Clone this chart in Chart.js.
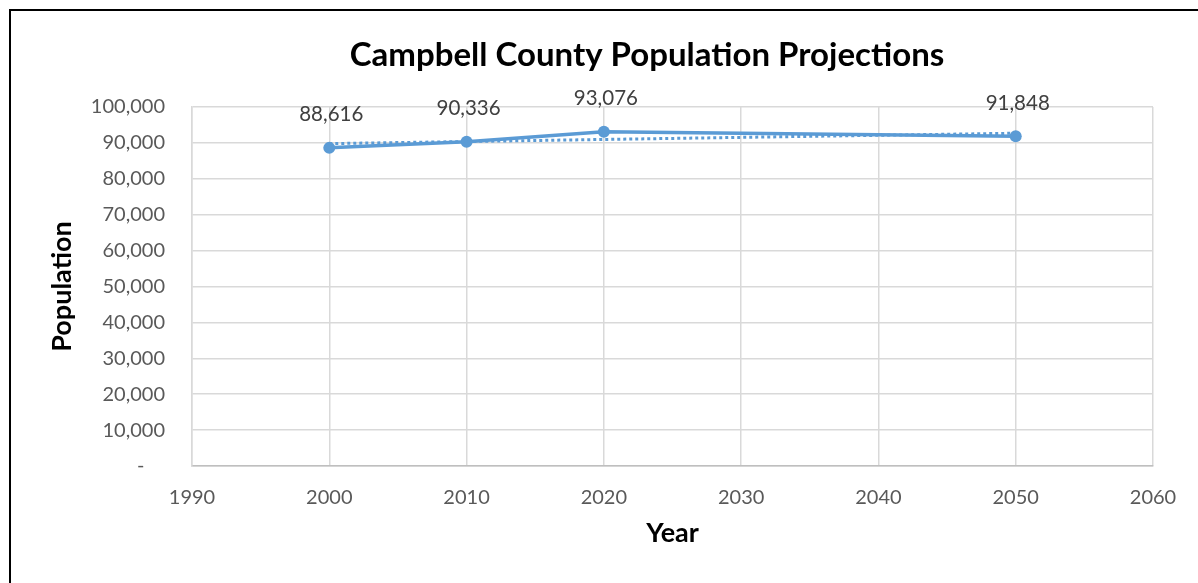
<!DOCTYPE html>
<html>
<head>
<meta charset="utf-8">
<script src="https://cdn.jsdelivr.net/npm/chart.js@4.4.1/dist/chart.umd.min.js"></script>
<style>
  body { margin: 0; background: #fff; }
  #wrap { position: relative; width: 1198px; height: 583px; overflow: hidden; }
  #frame { position: absolute; left: 9px; top: 9px; width: 1300px; height: 700px; border-left: 2px solid #000; border-top: 2px solid #000; }
  #chart { position: absolute; left: 0; top: 0; }
</style>
</head>
<body>
<div id="wrap">
  <div id="frame"></div>
  <canvas id="chart" width="1198" height="583"></canvas>
</div>
<script>
// data
const years = [2000, 2010, 2020, 2050]
const population = [88616, 90336, 93076, 91848]
// linear trendline ends (dotted)
const trendYears = [2000, 2050]
const trendValues = [89800, 92700]

const chartTitle = 'Campbell County Population Projections'
const xTitle = 'Year'
const yTitle = 'Population'

const blue = '#5b9bd5'
const font = 'Lato'

//draw title by hand so it sits where excel put it
const titlePlugin = {
  id: 'bigTitle',
  afterDraw(chart){
    const ctx = chart.ctx
    ctx.save()
    ctx.font = 'bold 33px ' + font
    ctx.fillStyle = '#000'
    ctx.textAlign = 'center'
    ctx.textBaseline = 'middle'
    ctx.fillText(chartTitle, 647, 55)
    ctx.restore()
  }
}

//value labels above the points
const labelPlugin = {
  id: 'pointLabels',
  afterDatasetsDraw(chart){
    const ctx = chart.ctx
    const meta = chart.getDatasetMeta(1)
    ctx.save()
    ctx.font = '20.5px ' + font
    ctx.fillStyle = '#404040'
    ctx.textAlign = 'center'
    ctx.textBaseline = 'middle'
    meta.data.forEach((pt, i) => {
      ctx.fillText(population[i].toLocaleString('en-US'), pt.x + 2, pt.y - 33)
    })
    ctx.restore()
  }
}

const data = {
  datasets: [
    {
      label: 'Trend',
      data: trendYears.map((y, i) => ({x: y, y: trendValues[i]})),
      borderColor: blue,
      borderWidth: 3,
      borderDash: [3, 3],
      pointRadius: 0,
      fill: false
    },
    {
      label: 'Population',
      data: years.map((y, i) => ({x: y, y: population[i]})),
      borderColor: blue,
      backgroundColor: blue,
      borderWidth: 3.5,
      pointRadius: 6,
      pointBackgroundColor: blue,
      pointBorderWidth: 0,
      fill: false
    }
  ]
}

const config = {
  type: 'line',
  data: data,
  options: {
    responsive: false,
    animation: false,
    layout: { padding: { left: 46, right: 45, top: 107, bottom: 34 } },
    plugins: {
      legend: { display: false },
      tooltip: { enabled: false }
    },
    scales: {
      x: {
        type: 'linear',
        min: 1990,
        max: 2060,
        ticks: {
          stepSize: 10,
          padding: 20,
          color: '#595959',
          font: { family: font, size: 20 },
          callback: v => String(v)
        },
        grid: { color: '#d9d9d9', lineWidth: 1.5, drawTicks: false },
        border: { color: '#bfbfbf', width: 1.5 },
        title: { display: true, text: xTitle, color: '#000', font: { family: font, size: 27, weight: 'bold' }, padding: 0 },
        afterFit: s => { s.height = 83 }
      },
      y: {
        min: 0,
        max: 100000,
        ticks: {
          stepSize: 10000,
          padding: 27,
          color: '#595959',
          font: { family: font, size: 20 },
          callback: v => v === 0 ? '-    ' : v.toLocaleString('en-US')
        },
        grid: { color: '#d9d9d9', lineWidth: 1.5, drawTicks: false },
        border: { color: '#d9d9d9', width: 1.5 },
        title: { display: true, text: yTitle, color: '#000', font: { family: font, size: 27, weight: 'bold' }, padding: 0 },
        afterFit: s => { s.width = 146 }
      }
    }
  },
  plugins: [titlePlugin, labelPlugin]
}

const chartX = new Chart(document.querySelector('#chart'), config)
</script>
</body>
</html>
